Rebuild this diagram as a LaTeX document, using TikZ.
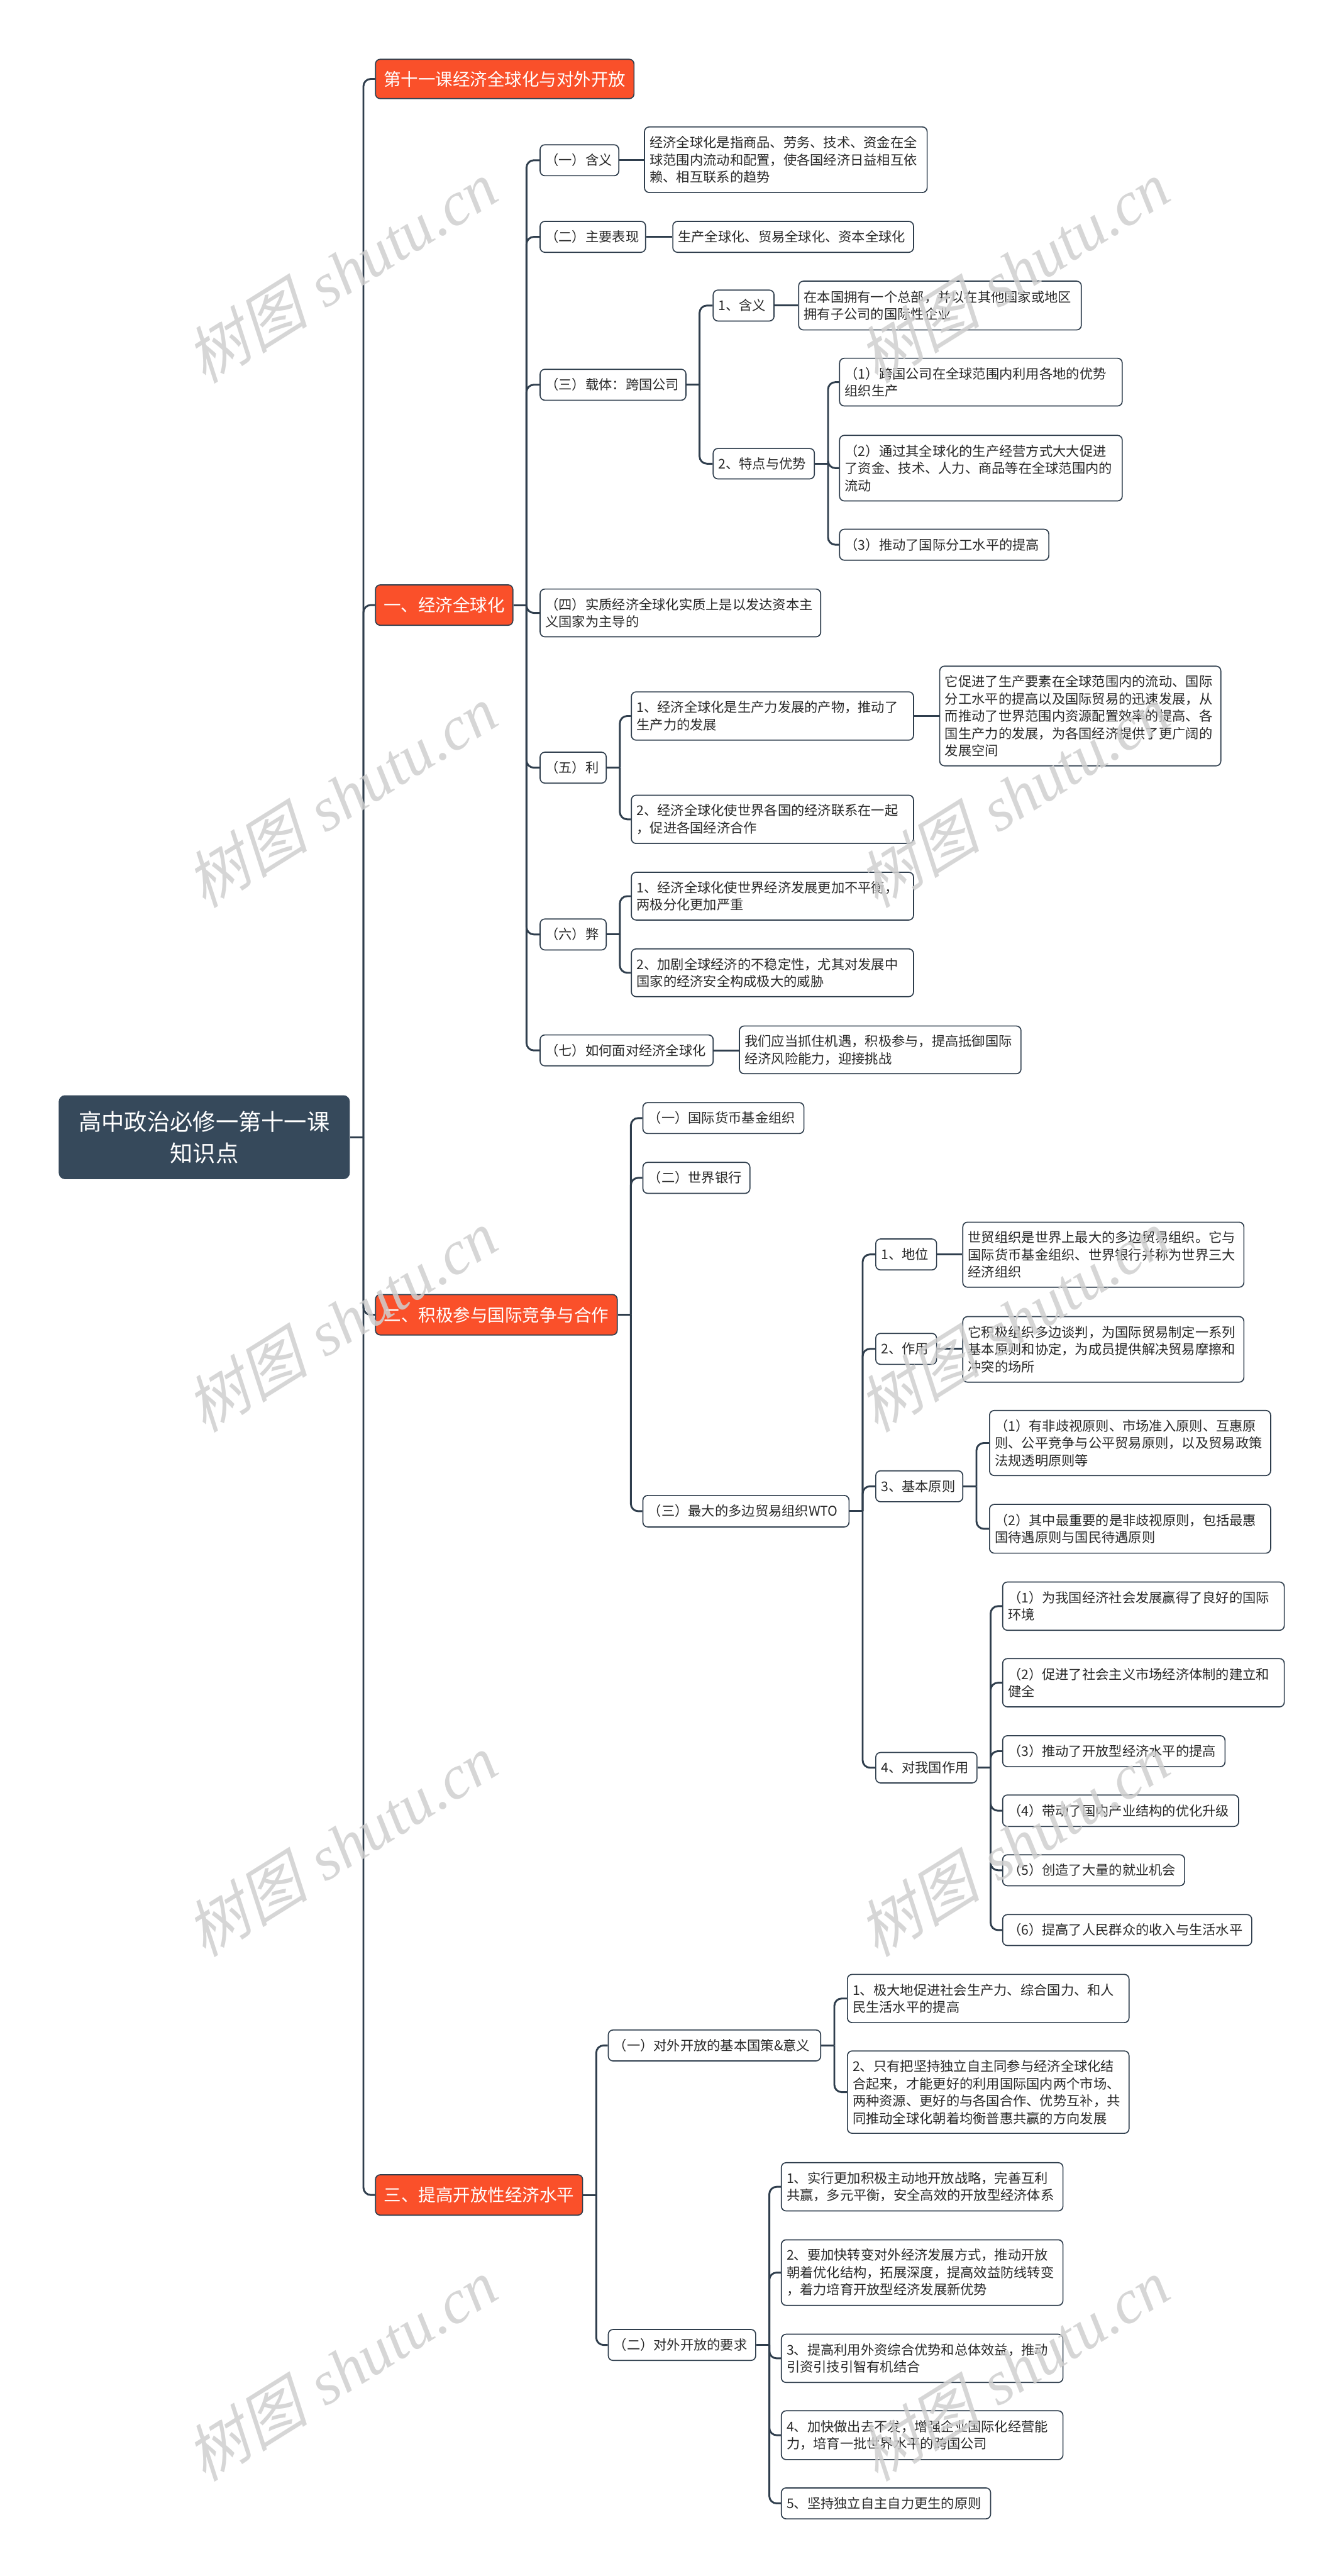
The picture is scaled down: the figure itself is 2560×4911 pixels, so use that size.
\documentclass[tikz,border=0pt]{standalone}
\usepackage{fontspec}
\newfontfamily\cjk{Noto Sans CJK SC}
\newfontfamily\wmcjk[FakeSlant=0.25]{Noto Sans CJK SC}
\newfontfamily\wmlat{Liberation Serif}
\definecolor{lc}{RGB}{47,62,77}
\definecolor{rootc}{RGB}{54,73,91}
\definecolor{org}{RGB}{250,80,42}
\definecolor{txt}{RGB}{40,40,40}
\tikzset{
 conn/.style={draw=lc, line width=3.5pt},
 elbow/.style={conn, rounded corners=14pt},
 wbox/.style={draw=lc, line width=2pt, fill=white, rounded corners=9pt, inner sep=0pt, anchor=north west, align=left, text=txt, font=\cjk\fontsize{25.5}{33}\selectfont},
 obox/.style={wbox, fill=org, text=white, align=center, font=\cjk\fontsize{33}{40}\selectfont},
 rbox/.style={wbox, draw=none, fill=rootc, text=white, align=center, rounded corners=12pt, font=\cjk\fontsize{43.5}{60}\selectfont},
 wm/.style={text=black!19, opacity=0.85, rotate=32, font=\fontsize{118}{124}\selectfont}
}
\newcommand\nd[7]{%
 \pgfmathsetmacro\ndw{#5-#3}%
 \pgfmathsetmacro\ndh{#6-#4}%
 \pgfmathsetmacro\ndt{#5-#3-20}%
 \node[#2, minimum width=\ndw pt, minimum height=\ndh pt, text width=\ndt pt] (#1) at (#3,#4) {#7};}
\newcommand\fan[2]{\draw[conn] (#1.east) -- ++(25,0) coordinate (b#1);
 \foreach \c in {#2} {\draw[elbow] (b#1) |- (\c.west);}}
\newcommand\lnk[2]{\draw[conn] (#1.east) -- (#1.east -| #2.west);}
\begin{document}
\begin{tikzpicture}[x=1pt,y=-1pt]
\fill[white] (0,0) rectangle (2560,4911);
\useasboundingbox (0,0) rectangle (2560,4911);
% root and main branches
\nd{R}{rbox}{111}{2087}{666}{2247}{高中政治必修一第十一课\\知识点}
\nd{H0}{obox}{715}{112}{1208}{187}{第十一课经济全球化与对外开放}
\nd{H1}{obox}{715}{1114}{977}{1191}{一、经济全球化}
\nd{H2}{obox}{715}{2467}{1176}{2544}{二、积极参与国际竞争与合作}
\nd{H3}{obox}{715}{4145}{1110}{4222}{三、提高开放性经济水平}
% branch one
\nd{A1}{wbox}{1029}{275}{1179}{334}{（一）含义}
\nd{A1d}{wbox}{1228}{241}{1767}{366}{经济全球化是指商品、劳务、技术、资金在全\\球范围内流动和配置，使各国经济日益相互依\\赖、相互联系的趋势}
\nd{A2}{wbox}{1029}{421}{1230}{480}{（二）主要表现}
\nd{A2d}{wbox}{1282}{421}{1741}{480}{生产全球化、贸易全球化、资本全球化}
\nd{A3}{wbox}{1029}{703}{1307}{762}{（三）载体：跨国公司}
\nd{A31}{wbox}{1359}{552}{1475}{611}{1、含义}
\nd{A31d}{wbox}{1522}{535}{2061}{628}{在本国拥有一个总部，并以在其他国家或地区\\拥有子公司的国际性企业}
\nd{A32}{wbox}{1359}{854}{1552}{912}{2、特点与优势}
\nd{A321}{wbox}{1600}{682}{2139}{773}{（1）跨国公司在全球范围内利用各地的优势\\组织生产}
\nd{A322}{wbox}{1600}{829}{2139}{954}{（2）通过其全球化的生产经营方式大大促进\\了资金、技术、人力、商品等在全球范围内的\\流动}
\nd{A323}{wbox}{1600}{1008}{1999}{1067}{（3）推动了国际分工水平的提高}
\nd{A4}{wbox}{1029}{1122}{1564}{1213}{（四）实质经济全球化实质上是以发达资本主\\义国家为主导的}
\nd{A5}{wbox}{1029}{1433}{1155}{1492}{（五）利}
\nd{A51}{wbox}{1203}{1318}{1741}{1410}{1、经济全球化是生产力发展的产物，推动了\\生产力的发展}
\nd{A51d}{wbox}{1791}{1269}{2327}{1459}{它促进了生产要素在全球范围内的流动、国际\\分工水平的提高以及国际贸易的迅速发展，从\\而推动了世界范围内资源配置效率的提高、各\\国生产力的发展，为各国经济提供了更广阔的\\发展空间}
\nd{A52}{wbox}{1203}{1515}{1741}{1607}{2、经济全球化使世界各国的经济联系在一起\\，促进各国经济合作}
\nd{A6}{wbox}{1029}{1751}{1155}{1810}{（六）弊}
\nd{A61}{wbox}{1203}{1662}{1741}{1753}{1、经济全球化使世界经济发展更加不平衡，\\两极分化更加严重}
\nd{A62}{wbox}{1203}{1808}{1741}{1899}{2、加剧全球经济的不稳定性，尤其对发展中\\国家的经济安全构成极大的威胁}
\nd{A7}{wbox}{1029}{1972}{1359}{2031}{（七）如何面对经济全球化}
\nd{A7d}{wbox}{1409}{1955}{1946}{2046}{我们应当抓住机遇，积极参与，提高抵御国际\\经济风险能力，迎接挑战}
% branch two
\nd{B1}{wbox}{1225}{2101}{1532}{2160}{（一）国际货币基金组织}
\nd{B2}{wbox}{1225}{2215}{1429}{2274}{（二）世界银行}
\nd{B3}{wbox}{1225}{2850}{1618}{2910}{（三）最大的多边贸易组织WTO}
\nd{B31}{wbox}{1669}{2361}{1785}{2420}{1、地位}
\nd{B31d}{wbox}{1835}{2329}{2371}{2453}{世贸组织是世界上最大的多边贸易组织。它与\\国际货币基金组织、世界银行并称为世界三大\\经济组织}
\nd{B32}{wbox}{1669}{2541}{1785}{2600}{2、作用}
\nd{B32d}{wbox}{1835}{2509}{2371}{2634}{它积极组织多边谈判，为国际贸易制定一系列\\基本原则和协定，为成员提供解决贸易摩擦和\\冲突的场所}
\nd{B33}{wbox}{1669}{2803}{1835}{2862}{3、基本原则}
\nd{B331}{wbox}{1886}{2688}{2422}{2812}{（1）有非歧视原则、市场准入原则、互惠原\\则、公平竞争与公平贸易原则，以及贸易政策\\法规透明原则等}
\nd{B332}{wbox}{1886}{2867}{2422}{2960}{（2）其中最重要的是非歧视原则，包括最惠\\国待遇原则与国民待遇原则}
\nd{B34}{wbox}{1669}{3340}{1862}{3398}{4、对我国作用}
\nd{B341}{wbox}{1911}{3015}{2448}{3107}{（1）为我国经济社会发展赢得了良好的国际\\环境}
\nd{B342}{wbox}{1911}{3161}{2448}{3253}{（2）促进了社会主义市场经济体制的建立和\\健全}
\nd{B343}{wbox}{1911}{3308}{2335}{3367}{（3）推动了开放型经济水平的提高}
\nd{B344}{wbox}{1911}{3421}{2361}{3481}{（4）带动了国内产业结构的优化升级}
\nd{B345}{wbox}{1911}{3535}{2258}{3594}{（5）创造了大量的就业机会}
\nd{B346}{wbox}{1911}{3649}{2386}{3708}{（6）提高了人民群众的收入与生活水平}
% branch three
\nd{C1}{wbox}{1159}{3869}{1564}{3928}{（一）对外开放的基本国策\&意义}
\nd{C11}{wbox}{1615}{3763}{2152}{3855}{1、极大地促进社会生产力、综合国力、和人\\民生活水平的提高}
\nd{C12}{wbox}{1615}{3909}{2152}{4066}{2、只有把坚持独立自主同参与经济全球化结\\合起来，才能更好的利用国际国内两个市场、\\两种资源、更好的与各国合作、优势互补，共\\同推动全球化朝着均衡普惠共赢的方向发展}
\nd{C2}{wbox}{1159}{4440}{1440}{4499}{（二）对外开放的要求}
\nd{C21}{wbox}{1489}{4122}{2026}{4214}{1、实行更加积极主动地开放战略，完善互利\\共赢，多元平衡，安全高效的开放型经济体系}
\nd{C22}{wbox}{1489}{4269}{2026}{4394}{2、要加快转变对外经济发展方式，推动开放\\朝着优化结构，拓展深度，提高效益防线转变\\，着力培育开放型经济发展新优势}
\nd{C23}{wbox}{1489}{4449}{2026}{4541}{3、提高利用外资综合优势和总体效益，推动\\引资引技引智有机结合}
\nd{C24}{wbox}{1489}{4595}{2026}{4688}{4、加快做出去不发，增强企业国际化经营能\\力，培育一批世界水平的跨国公司}
\nd{C25}{wbox}{1489}{4742}{1888}{4801}{5、坚持独立自主自力更生的原则}
% connectors
\fan{R}{H0,H1,H2,H3}
\fan{H1}{A1,A2,A3,A4,A5,A6,A7}
\lnk{A1}{A1d}
\lnk{A2}{A2d}
\fan{A3}{A31,A32}
\lnk{A31}{A31d}
\fan{A32}{A321,A322,A323}
\fan{A5}{A51,A52}
\lnk{A51}{A51d}
\fan{A6}{A61,A62}
\lnk{A7}{A7d}
\fan{H2}{B1,B2,B3}
\fan{B3}{B31,B32,B33,B34}
\lnk{B31}{B31d}
\lnk{B32}{B32d}
\fan{B33}{B331,B332}
\fan{B34}{B341,B342,B343,B344,B345,B346}
\fan{H3}{C1,C2}
\fan{C1}{C11,C12}
\fan{C2}{C21,C22,C23,C24,C25}
% watermarks
\foreach \wy in {518,1518,2518,3518,4518} {
 \node[wm] at (650,\wy) {{\wmcjk 树图} {\wmlat\itshape shutu.cn}};
 \node[wm] at (1932,\wy) {{\wmcjk 树图} {\wmlat\itshape shutu.cn}};
}
\end{tikzpicture}
\end{document}
